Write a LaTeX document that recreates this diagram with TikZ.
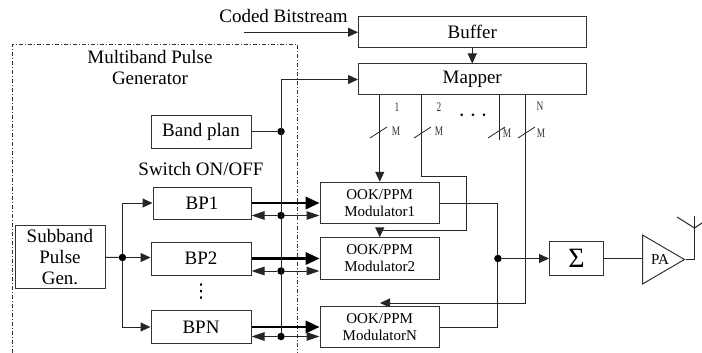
\documentclass[tikz,border=0pt]{standalone}
\usepackage{fontspec}
\setmainfont{Liberation Serif}
\newfontfamily\labelfont[FakeStretch=0.72]{Liberation Serif}
\newfontfamily\dotfont{DejaVu Sans}
\usetikzlibrary{
    arrows.meta,
    positioning,
    calc,
    backgrounds,
    shapes.geometric
}

\begin{document}
\begin{tikzpicture}[
        x=1pt,y=-1pt,
        every node/.style={font=\fontsize{19}{21}\selectfont},
        block/.style={
            rectangle,
            draw=black!80,
            fill=white,
            line width=1pt,
            inner sep=0pt,
            align=center
        },
        modulator/.style={
            block,
            minimum width=119.5pt,
            minimum height=41.5pt,
            font=\fontsize{15}{17}\selectfont
        },
        bpblock/.style={
            block,
            minimum width=100pt,
            minimum height=33pt
        },
        link/.style={line width=1pt,draw=black!85},
        arrow/.style={
            link,
            -{Triangle[length=10pt,width=9pt]}
        },
        busarrow/.style={
            link,
            -{Triangle[length=13pt,width=8.5pt]}
        },
        heavy/.style={
            line width=2.2pt,
            draw=black,
            -{Triangle[length=14pt,width=12.5pt]}
        },
        junction/.style={
            circle,
            fill=black,
            inner sep=0pt,
            minimum size=7.5pt
        },
        busmark/.style={font=\labelfont\fontsize{13}{15}\selectfont,text=black!80,inner sep=0pt},
        group/.style={dash pattern=on 4pt off 2pt on 1pt off 2pt,line width=1pt,draw=black!80}
    ]
        \useasboundingbox (0,0) rectangle (702,353);

        % Bit path
        \node[block, minimum width=227.5pt, minimum height=30.5pt] (buffer) at (472.25,32.25) {Buffer};
        \node[block, minimum width=227.5pt, minimum height=31pt, below=15.5pt of buffer] (mapper) {Mapper};
        \node[inner sep=0pt] (coded) at (283.5,16) {Coded Bitstream};
        \coordinate (codedin) at (244,32.25);

        \draw[arrow] (codedin) -- (buffer.west);
        \draw[arrow] (buffer) -- (mapper);

        % Pulse generator
        \node[bpblock] (bandplan) at (201,131.5) {Band plan};
        \node[below=14pt of bandplan, inner sep=0pt] (switchlabel) {Switch ON/OFF};
        \node[bpblock, minimum width=98pt, minimum height=32pt] (bp1) at (202,203) {BP1};
        \node[bpblock, below=22pt of bp1, xshift=-1pt] (bp2) {BP2};
        \node[bpblock, below=34.5pt of bp2] (bpn) {BPN};
        \node[block, minimum width=90pt, minimum height=63.5pt, left=45pt of bp2, yshift=1.5pt] (subband)
            {Subband\\Pulse\\Gen.};
        \node[inner sep=0pt, font=\dotfont\fontsize{19}{19}\selectfont] (bpdots) at (201,292) {⋮};
        \node[align=center, inner sep=0pt] (grouplabel) at (150,67.5) {Multiband Pulse\\Generator};

        \node[junction, right=13pt of subband, yshift=-.5pt] (split) {};
        \draw[link] (subband) -- (split);
        \draw[arrow] (split) |- (bp1.west);
        \draw[arrow] (split) -- (split -| bp2.west);
        \draw[arrow] (split) |- (bpn.west);

        % Modulators
        \node[modulator, right=68pt of bp1] (mod1) {OOK/PPM\\Modulator1};
        \node[modulator, right=68pt of bp2] (mod2) {OOK/PPM\\Modulator2};
        \node[modulator, right=68pt of bpn] (modn) {OOK/PPM\\ModulatorN};

        \draw[heavy] (bp1.east) -- (mod1.west);
        \draw[heavy] (bp2.east) -- (mod2.west);
        \draw[heavy] (bpn.east) -- (modn.west);

        % Band control bus
        \node[junction] (bandjoint) at (281,131.5) {};
        \node[junction] (bus1) at (281,215.5) {};
        \node[junction] (bus2) at (281,271) {};
        \node[junction] (busn) at (281,336.5) {};

        \draw[link] (bandplan) -- (bandjoint);
        \draw[arrow] (busn) |- (mapper.west);
        \draw[busarrow] (bus1) -- (bus1 -| bp1.east);
        \draw[busarrow] (bus1) -- (bus1 -| mod1.west);
        \draw[busarrow] (bus2) -- (bus2 -| bp2.east);
        \draw[busarrow] (bus2) -- (bus2 -| mod2.west);
        \draw[busarrow] (busn) -- (busn -| bpn.east);
        \draw[busarrow] (busn) -- (busn -| modn.west);

        % Mapper outputs
        \coordinate (out2) at (421,94);
        \coordinate (out3) at (499,94);
        \coordinate (outn) at (525,94);
        \coordinate (end3) at (499,140);
        \coordinate (bend2a) at (466,176);
        \coordinate (bend2b) at (466,230);
        \coordinate (feedn) at (380,303);

        \draw[arrow] (mod1.north |- mapper.south) -- (mod1.north);
        \draw[arrow] (out2) |- (bend2a) -- (bend2b) -| (mod2.north);
        \draw[link] (out3) -- (end3);
        \begin{scope}[on background layer]
            \draw[arrow] (outn) |- (feedn);
            \draw[group] (12,353) |- (297.5,45) -- (297.5,353);
        \end{scope}

        \draw[link, line width=0.8pt] (370,138) -- (387,127);
        \draw[link, line width=0.8pt] (414,138) -- (431,127);
        \draw[link, line width=0.8pt] (488,138) -- (505,127);
        \draw[link, line width=0.8pt] (518,138) -- (535,127);

        \node[busmark] (lab1) at (397,107) {1};
        \node[busmark] (lab2) at (439,107) {2};
        \node[busmark] (labn) at (540,106) {N};
        \node[busmark] (m1) at (396,131) {M};
        \node[busmark] (m2) at (439,131) {M};
        \node[busmark] (m3) at (507,133) {M};
        \node[busmark] (mn) at (541,133) {M};
        \node[inner sep=0pt, font=\fontsize{25}{25}\selectfont] (busdots) at (473,116) {$\cdots$};

        % Combiner and output stage
        \node[junction, right=54pt of mod2] (joint) {};
        \node[block, minimum width=54pt, minimum height=34pt, right=109pt of mod2,
            font=\fontsize{28}{28}\selectfont] (summer) {Σ};
        \node[isosceles triangle, isosceles triangle stretches, draw=black!80, line width=1pt,
            minimum width=49pt, minimum height=42pt, inner sep=0pt, anchor=lower side] (pa) at (642,259.5) {};
        \node[font=\fontsize{15}{17}\selectfont, inner sep=0pt] (palabel) at (660,259.5) {PA};

        \coordinate (anttop) at (694.5,216);
        \coordinate (antjoin) at (694.5,228);
        \coordinate (antleft) at (677,217);
        \coordinate (antright) at (702,223);

        \draw[link] (mod1.east) -| (joint);
        \draw[link] (modn.east) -| (joint);
        \draw[arrow] (joint) -- (summer);
        \draw[link] (summer) -- (summer -| pa.lower side);
        \draw[link] (pa.apex) -| (anttop);
        \draw[link] (antleft) -- (antjoin) -- (antright);
\end{tikzpicture}
\end{document}
